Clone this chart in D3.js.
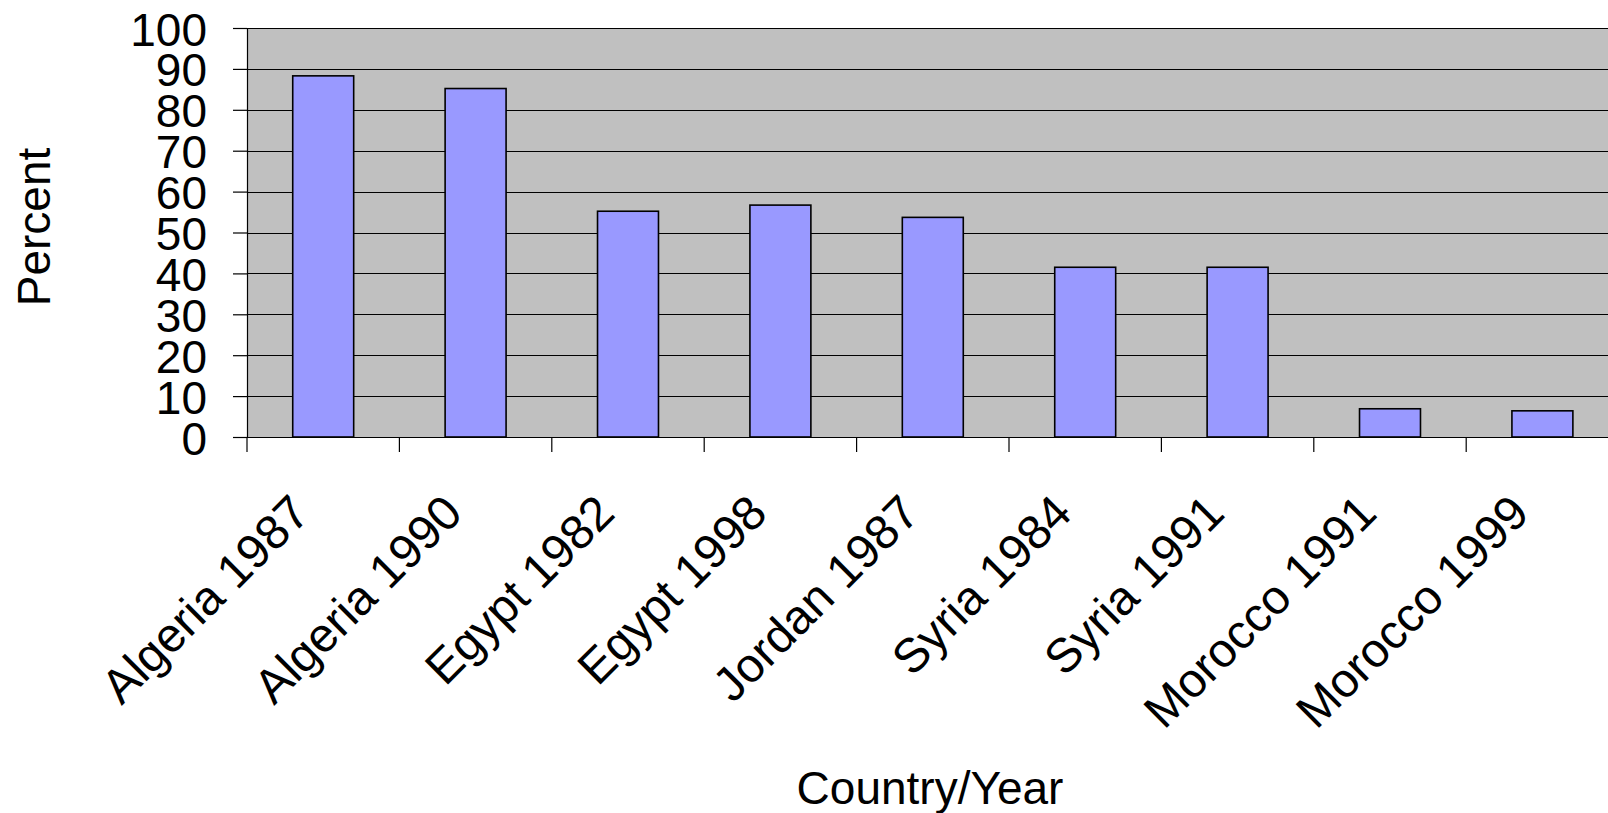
<!DOCTYPE html>
<html>
<head>
<meta charset="utf-8">
<script src="https://cdn.jsdelivr.net/npm/d3@7"></script>
<style>
  body { margin: 0; background: #fff; }
  svg { display: block; font-family: "Liberation Sans", Arial, sans-serif; }
</style>
</head>
<body>
<div id="chart"></div>
<script>
// chart values
var categories = ['Algeria 1987', 'Algeria 1990', 'Egypt 1982', 'Egypt 1998', 'Jordan 1987',
                  'Syria 1984', 'Syria 1991', 'Morocco 1991', 'Morocco 1999'];
var percents = [88.3, 85.2, 55.2, 56.7, 53.7, 41.5, 41.5, 6.9, 6.4];
var yTicks = [0, 10, 20, 30, 40, 50, 60, 70, 80, 90, 100];

var w = 1608, h = 813;
var plotLeft = 247, plotTop = 28, plotBottom = 437, plotRight = 1618.6;
var fontSize = 46;

var svg = d3.select('#chart').append('svg')
    .attr('width', w)
    .attr('height', h);

var x = d3.scaleBand()
    .domain(categories)
    .range([plotLeft, plotRight])
    .paddingInner(0.6)
    .paddingOuter(0.3);

var y = d3.scaleLinear()
    .domain([0, 100])
    .range([plotBottom, plotTop]);

// plot area
svg.append('rect')
    .attr('x', plotLeft)
    .attr('y', plotTop)
    .attr('width', plotRight - plotLeft)
    .attr('height', plotBottom - plotTop)
    .attr('fill', '#c0c0c0');

// gridlines
svg.append('g').selectAll('line')
    .data(yTicks.filter(function(d){ return d > 0; }))
    .enter()
    .append('line')
    .attr('x1', plotLeft)
    .attr('x2', plotRight)
    .attr('y1', function(d){ return Math.round(y(d)) + 0.5; })
    .attr('y2', function(d){ return Math.round(y(d)) + 0.5; })
    .attr('stroke', '#000')
    .attr('stroke-width', 1);

// bars
svg.append('g').selectAll('rect')
    .data(percents)
    .enter()
    .append('rect')
    .attr('x', function(d, i){ return x(categories[i]); })
    .attr('y', function(d){ return y(d); })
    .attr('width', x.bandwidth())
    .attr('height', function(d){ return plotBottom - y(d); })
    .attr('fill', '#9999ff')
    .attr('stroke', '#000')
    .attr('stroke-width', 1.6);

// y axis
var yAxis = svg.append('g')
    .attr('transform', 'translate(' + plotLeft + ',0)')
    .call(d3.axisLeft(y).tickValues(yTicks).tickSize(14).tickPadding(26).tickSizeOuter(0));
yAxis.select('.domain').attr('stroke', '#000').attr('stroke-width', 1.2);
yAxis.selectAll('.tick line').attr('stroke', '#000').attr('stroke-width', 1.2);
yAxis.selectAll('.tick text')
    .attr('fill', '#000')
    .attr('dy', '0.37em')
    .style('font-size', fontSize + 'px')
    .style('font-family', '"Liberation Sans", Arial, sans-serif');

// x axis line
svg.append('line')
    .attr('x1', plotLeft)
    .attr('x2', plotRight)
    .attr('y1', plotBottom + 0.5)
    .attr('y2', plotBottom + 0.5)
    .attr('stroke', '#000')
    .attr('stroke-width', 1.2);

// category boundary ticks
var step = x.step();
svg.append('g').selectAll('line')
    .data(d3.range(categories.length + 1))
    .enter()
    .append('line')
    .attr('x1', function(i){ return plotLeft + i * step; })
    .attr('x2', function(i){ return plotLeft + i * step; })
    .attr('y1', plotBottom)
    .attr('y2', plotBottom + 15)
    .attr('stroke', '#000')
    .attr('stroke-width', 1.2);

// category labels, rotated, ending under each bar
svg.append('g').selectAll('text')
    .data(categories)
    .enter()
    .append('text')
    .attr('transform', function(d){
        return 'translate(' + (x(d) + x.bandwidth() / 2 - 11) + ',' + 515.5 + ') rotate(-45)';
    })
    .attr('text-anchor', 'end')
    .style('font-size', '48px')
    .text(function(d){ return d; });

// axis titles
svg.append('text')
    .attr('transform', 'translate(50,227) rotate(-90)')
    .attr('text-anchor', 'middle')
    .style('font-size', fontSize + 'px')
    .text('Percent');

svg.append('text')
    .attr('x', 930)
    .attr('y', 804)
    .attr('text-anchor', 'middle')
    .style('font-size', fontSize + 'px')
    .text('Country/Year');
</script>
</body>
</html>
